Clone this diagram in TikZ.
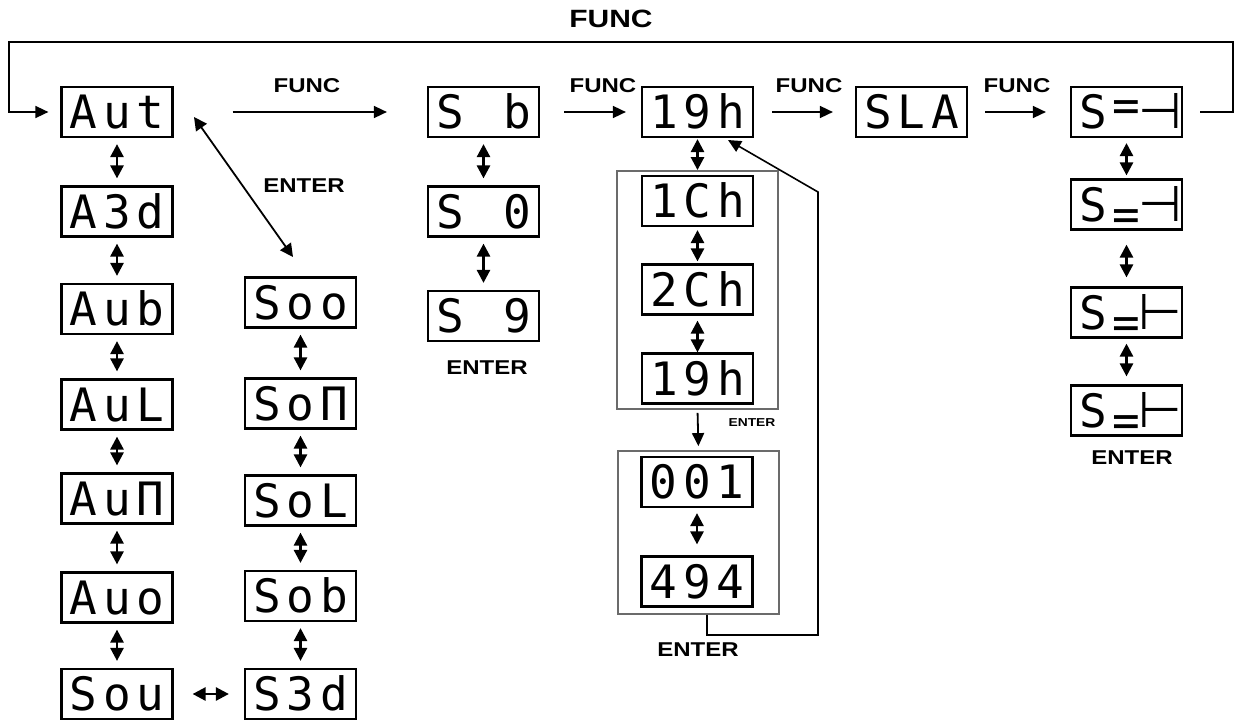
\documentclass[tikz,border=0pt]{standalone}
\usepackage{fontspec}
\setmainfont{Liberation Sans}
\newfontfamily\lblfont{Liberation Sans}[FakeStretch=1.2]
\newfontfamily\segfont{DejaVu Sans Mono}
\newfontfamily\symfont{DejaVu Sans}
\usetikzlibrary{arrows.meta}
\newcommand\seg[3]{\makebox[33.5pt]{#1}\makebox[33.5pt]{#2}\makebox[33.5pt]{#3}}
\newcommand\upeq{\raisebox{7pt}{=}}
\newcommand\loeq{\raisebox{-9pt}{=}}
\newcommand\rt{{\symfont\fontsize{50pt}{50pt}\selectfont ⊣}}
\newcommand\lt{{\symfont\fontsize{50pt}{50pt}\selectfont ⊢}}
\tikzset{
  disp/.style={draw, line width=2.2pt, minimum width=111pt, minimum height=50pt,
    inner sep=0pt, text height=33pt, text depth=0pt,
    font={\segfont\fontsize{46pt}{46pt}\selectfont}},
  grp/.style={draw=black!58, line width=1.8pt, inner sep=0pt},
  lbl/.style={inner sep=0pt, font={\lblfont\bfseries\fontsize{20pt}{20pt}\selectfont}},
  tlbl/.style={inner sep=0pt, font={\lblfont\bfseries\fontsize{25pt}{25pt}\selectfont}},
  slbl/.style={inner sep=0pt, font={\lblfont\bfseries\fontsize{11.5pt}{11.5pt}\selectfont}},
  arr/.style={line width=1.6pt, -{Triangle[length=13pt,width=12pt]}},
  darr/.style={line width=2.6pt, {Triangle[length=13pt,width=13pt]}-{Triangle[length=13pt,width=13pt]},
    shorten <=6pt, shorten >=7pt},
}
\begin{document}
\begin{tikzpicture}[x=1pt,y=-1pt]
\useasboundingbox (0,0) rectangle (1234,720);
% left column
\node[disp] (aut) at (117,112) {\seg{A}{u}{t}};
\node[disp] (a3d) at (117,211.5) {\seg{A}{3}{d}};
\node[disp] (aub) at (117,309) {\seg{A}{u}{b}};
\node[disp] (aul) at (117,404.5) {\seg{A}{u}{L}};
\node[disp] (aum) at (117,498.5) {\seg{A}{u}{Π}};
\node[disp] (auo) at (117,597.5) {\seg{A}{u}{o}};
\node[disp] (sou) at (117,694) {\seg{S}{o}{u}};
% S column
\node[disp] (soo) at (300.5,302.5) {\seg{S}{o}{o}};
\node[disp] (som) at (300.5,403.5) {\seg{S}{o}{Π}};
\node[disp] (sol) at (300.5,500.5) {\seg{S}{o}{L}};
\node[disp] (sob) at (300.5,596) {\seg{S}{o}{b}};
\node[disp] (s3d) at (300.5,694) {\seg{S}{3}{d}};
% Sb column
\node[disp] (sb) at (483.5,112) {\seg{S}{}{b}};
\node[disp] (s0) at (483.5,211.5) {\seg{S}{}{0}};
\node[disp] (s9) at (483.5,316) {\seg{S}{}{9}};
\node[lbl] (ent2) at (487,368) {ENTER};
% 19h column
\node[disp] (h19) at (697.5,112) {\seg{1}{9}{h}};
\node[grp, minimum width=161pt, minimum height=238pt] (g1) at (697.5,290) {};
\node[disp] (c1) at (697.5,201) {\seg{1}{C}{h}};
\node[disp] (c2) at (697.5,289.5) {\seg{2}{C}{h}};
\node[disp] (h19b) at (697.5,378.5) {\seg{1}{9}{h}};
\node[grp, minimum width=161pt, minimum height=163pt] (g2) at (698.5,532.5) {};
\node[disp] (n001) at (697,482) {\seg{0}{0}{1}};
\node[disp] (n494) at (697,581.5) {\seg{4}{9}{4}};
\node[slbl] (ent3) at (752,423) {ENTER};
\node[lbl] (ent4) at (698,650) {ENTER};
% SLA and right column
\node[disp] (sla) at (911.5,112) {\seg{S}{L}{A}};
\node[disp] (r1) at (1126.5,112) {\seg{S}{\upeq}{\rt}};
\node[disp] (r2) at (1126.5,204.5) {\seg{S}{\loeq}{\rt}};
\node[disp] (r3) at (1126.5,312.5) {\seg{S}{\loeq}{\lt}};
\node[disp] (r4) at (1126.5,410.5) {\seg{S}{\loeq}{\lt}};
\node[lbl] (ent5) at (1132,458) {ENTER};
% labels
\node[tlbl] (ftop) at (611,19) {FUNC};
\node[lbl] (f1) at (307,86) {FUNC};
\node[lbl] (f2) at (603,86) {FUNC};
\node[lbl] (f3) at (809,86) {FUNC};
\node[lbl] (f4) at (1017,86) {FUNC};
\node[lbl] (ent1) at (304,186) {ENTER};
% vertical double arrows
\draw[darr] (aut) -- (a3d);
\draw[darr] (a3d) -- (aub);
\draw[darr] (aub) -- (aul);
\draw[darr] (aul) -- (aum);
\draw[darr] (aum) -- (auo);
\draw[darr] (auo) -- (sou);
\draw[darr] (soo) -- (som);
\draw[darr] (som) -- (sol);
\draw[darr] (sol) -- (sob);
\draw[darr] (sob) -- (s3d);
\draw[darr] (sb) -- (s0);
\draw[darr] (s0) -- (s9);
\draw[darr, shorten <=1pt, shorten >=0pt] (h19) -- (g1.north);
\draw[darr, shorten <=3pt, shorten >=2pt] (c1) -- (c2);
\draw[darr, shorten <=5pt, shorten >=0pt] (c2) -- (h19b);
\draw[darr, shorten <=5pt, shorten >=11pt] (n001) -- (n494);
\draw[darr, shorten <=5pt, shorten >=3pt] (r1) -- (r2);
\draw[darr, shorten <=14pt, shorten >=9pt] (r2) -- (r3);
\draw[darr, shorten <=5pt, shorten >=8pt] (r3) -- (r4);
\draw[darr, shorten <=19pt, shorten >=15pt] (sou) -- (s3d);
% horizontal FUNC arrows
\draw[arr, shorten <=59pt, shorten >=40pt] (aut) -- (sb);
\draw[arr, shorten <=24pt, shorten >=15pt] (sb) -- (h19);
\draw[arr, shorten <=18pt, shorten >=22pt] (h19) -- (sla);
\draw[arr, shorten <=17pt, shorten >=24pt] (sla) -- (r1);
% ENTER diagonal
\coordinate (d1) at (194,117);
\coordinate (d2) at (293,257);
\draw[darr, line width=1.8pt, shorten <=0pt, shorten >=0pt] (d1) -- (d2);
% ENTER from group 1 to group 2
\draw[arr, line width=1.8pt, shorten <=3pt, shorten >=4pt] (g1.south) -- (g2.north);
% return loop from group 2 to 19h
\coordinate (rb) at (707,635);
\coordinate (rc) at (818,635);
\coordinate (rd) at (818,192);
\coordinate (re) at (728,140);
\draw[arr] (g2.south -| rb) -- (rb) -- (rc) -- (rd) -- (re);
% big FUNC loop
\coordinate (la) at (1233,112);
\coordinate (lb) at (1233,42);
\coordinate (lc) at (9,42);
\draw[arr, shorten >=12pt]
  ([xshift=17pt]r1.east) -- (la) -- (lb) -- (lc) |- (aut.west);
\end{tikzpicture}
\end{document}
